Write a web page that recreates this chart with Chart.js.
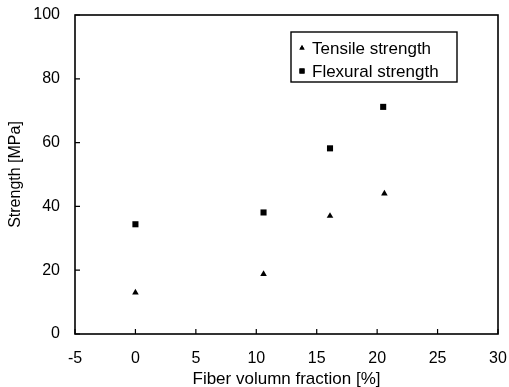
<!DOCTYPE html>
<html>
<head>
<meta charset="utf-8">
<script src="https://cdn.jsdelivr.net/npm/chart.js@4"></script>
<style>
html,body{margin:0;padding:0;background:#fff;}
#wrap{width:509px;height:387px;}
</style>
</head>
<body>
<div id="wrap"><canvas id="c" width="509" height="387"></canvas></div>
<script>
const tensileX = [0, 10.6, 16.1, 20.6];
const tensileY = [13, 18.8, 37, 44];
const flexuralX = [0, 10.6, 16.1, 20.5];
const flexuralY = [34.4, 38.1, 58.2, 71.2];
const seriesLabels = ['Tensile strength', 'Flexural strength'];
const xTicks = [-5, 0, 5, 10, 15, 20, 25, 30];
const yTicks = [0, 20, 40, 60, 80, 100];
const xTitle = 'Fiber volumn fraction [%]';
const yTitle = 'Strength [MPa]';

const FONT = 'Arial, "Liberation Sans", sans-serif';

const toPts = (xs, ys) => xs.map((x, i) => ({x: x, y: ys[i]}));

const frameAndLegend = {
  id: 'frameAndLegend',
  afterDatasetsDraw(chart) {
    const ctx = chart.ctx;
    const a = chart.chartArea;
    const xs = chart.scales.x, ys = chart.scales.y;
    ctx.save();
    ctx.strokeStyle = '#000';
    ctx.lineWidth = 1.6;
    ctx.strokeRect(a.left, a.top, a.right - a.left, a.bottom - a.top);
    // inward tick marks
    ctx.lineWidth = 1.2;
    ctx.beginPath();
    xTicks.forEach(v => {
      const px = xs.getPixelForValue(v);
      ctx.moveTo(px, a.bottom);
      ctx.lineTo(px, a.bottom - 5);
    });
    yTicks.forEach(v => {
      const py = ys.getPixelForValue(v);
      ctx.moveTo(a.left, py);
      ctx.lineTo(a.left + 5, py);
    });
    ctx.stroke();
    // legend box
    const bx = a.left + 216, by = a.top + 17, bw = 166, bh = 50;
    ctx.lineWidth = 1.4;
    ctx.strokeRect(bx, by, bw, bh);
    ctx.font = '17px ' + FONT;
    ctx.fillStyle = '#000';
    ctx.textBaseline = 'middle';
    ctx.textAlign = 'left';
    chart.data.datasets.forEach((ds, i) => {
      const cy = by + 16 + i * 23;
      Chart.helpers.drawPoint(ctx, {pointStyle: ds.pointStyle, radius: ds.pointStyle === 'triangle' ? 3 : 3.6, rotation: 0, borderWidth: 0}, bx + 11, cy);
      ctx.fillStyle = '#000';
      ctx.fill();
      ctx.fillText(ds.label, bx + 21, cy + 1);
    });
    ctx.restore();
  }
};

new Chart(document.getElementById('c'), {
  type: 'scatter',
  data: {
    datasets: [
      {
        label: seriesLabels[0],
        data: toPts(tensileX, tensileY),
        pointStyle: 'triangle',
        pointRadius: 3.8,
        backgroundColor: '#000',
        borderColor: '#000',
        borderWidth: 0
      },
      {
        label: seriesLabels[1],
        data: toPts(flexuralX, flexuralY),
        pointStyle: 'rect',
        pointRadius: 4.3,
        backgroundColor: '#000',
        borderColor: '#000',
        borderWidth: 0
      }
    ]
  },
  options: {
    responsive: false,
    animation: false,
    devicePixelRatio: 1,
    layout: {padding: {left: 0, right: 11, top: 15, bottom: 0}},
    plugins: {
      legend: {display: false},
      tooltip: {enabled: false}
    },
    scales: {
      x: {
        type: 'linear',
        min: -5, max: 30,
        afterBuildTicks: s => { s.ticks = xTicks.map(v => ({value: v})); },
        afterFit: s => { s.height = 53; s.paddingLeft = 0; s.paddingRight = 0; },
        grid: {display: false, drawTicks: false},
        border: {display: false},
        ticks: {color: '#000', font: {family: FONT, size: 16}, padding: 15, maxRotation: 0},
        title: {display: true, text: xTitle, color: '#000', font: {family: FONT, size: 17, lineHeight: 0.85}, padding: 0}
      },
      y: {
        type: 'linear',
        min: 0, max: 100,
        afterBuildTicks: s => { s.ticks = yTicks.map(v => ({value: v})); },
        afterFit: s => { s.width = 75; s.paddingTop = 0; s.paddingBottom = 0; },
        grid: {display: false, drawTicks: false},
        border: {display: false},
        ticks: {color: '#000', font: {family: FONT, size: 16}, padding: 15},
        title: {display: true, text: yTitle, color: '#000', font: {family: FONT, size: 16}, padding: {top: 6, bottom: 0}}
      }
    }
  },
  plugins: [frameAndLegend]
});
</script>
</body>
</html>
